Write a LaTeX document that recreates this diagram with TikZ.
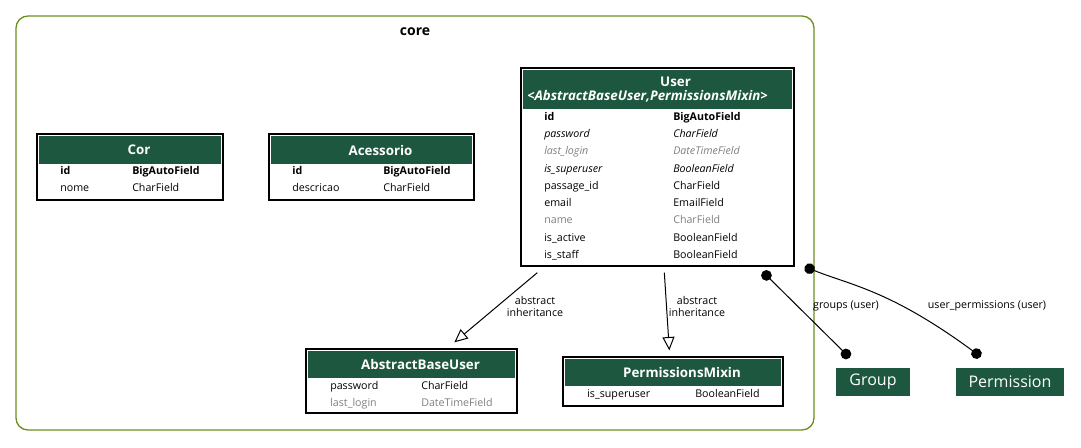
\documentclass[tikz,border=0pt]{standalone}
\usepackage{fontspec}
\setmainfont{Open Sans}
\usetikzlibrary{arrows.meta,calc}
\definecolor{hdgreen}{RGB}{29,87,63}
\definecolor{clgreen}{RGB}{107,142,35}
\def\inh{\itshape}
\def\gry{\color{gray}}
\def\hd{\hspace*{13.5pt}}
\begin{document}
\begin{tikzpicture}[x=0.75pt,y=-0.75pt,
				model/.style={draw,fill=white,line width=1pt,inner sep=0pt},
				head/.style={fill=hdgreen,text=white,align=center,font=\bfseries\fontsize{10}{10.5}\selectfont,inner sep=0pt},
				fld/.style={anchor=base west,inner sep=0pt,yshift=-3.6pt,font=\fontsize{8}{9}\selectfont},
				ext/.style={fill=hdgreen,text=white,font=\fontsize{12}{14}\selectfont,minimum height=21pt,inner sep=0pt},
				lab/.style={align=center,font=\fontsize{8}{9}\selectfont},
				inherit/.style={line width=0.75pt,-{Triangle[open,length=10pt,width=9pt]}},
				rel/.style={line width=0.75pt,{Circle[length=8pt]}-{Circle[length=8pt]}}]
				\useasboundingbox (0,0) rectangle (1081,447);
				\draw [clgreen,line width=1pt,rounded corners=9pt] (16,16) rectangle (814,430);
				\node [font=\bfseries\fontsize{10.5}{12}\selectfont] (core) at (415,32) {core};
				\node [model,minimum width=139.5pt,minimum height=49.5pt] (Cor) at (130,167) {};
				\node [head,minimum width=136.5pt,minimum height=21pt] (CorHead) at (130,150) {\hd Cor};
					\node [fld] (CorF1) at (60,170) {\bfseries id};
					\node [fld] (CorT1) at (132,170) {\bfseries BigAutoField};
					\node [fld] (CorF2) at (60,187) {nome};
					\node [fld] (CorT2) at (132,187) {CharField};
				\node [model,minimum width=153.75pt,minimum height=49.5pt] (Acessorio) at (371.5,167) {};
				\node [head,minimum width=150.75pt,minimum height=21pt] (AcessorioHead) at (371.5,150) {\hd Acessorio};
					\node [fld] (AcessorioF1) at (292,170) {\bfseries id};
					\node [fld] (AcessorioT1) at (383,170) {\bfseries BigAutoField};
					\node [fld] (AcessorioF2) at (292,187) {descricao};
					\node [fld] (AcessorioT2) at (383,187) {CharField};
				\node [model,minimum width=204.75pt,minimum height=148.5pt] (User) at (657.5,167) {};
				\node [head,minimum width=201.75pt,minimum height=29.25pt] (UserHead) at (657.5,89.5) {\hspace*{27pt}User\\\inh <AbstractBaseUser,PermissionsMixin>\hspace*{15pt}};
					\node [fld] (UserF1) at (544,116) {\bfseries id};
					\node [fld] (UserT1) at (673,116) {\bfseries BigAutoField};
					\node [fld] (UserF2) at (544,133) {\inh password};
					\node [fld] (UserT2) at (673,133) {\inh CharField};
					\node [fld] (UserF3) at (544,150) {\inh\gry last\_login};
					\node [fld] (UserT3) at (673,150) {\inh\gry DateTimeField};
					\node [fld] (UserF4) at (544,168) {\inh is\_superuser};
					\node [fld] (UserT4) at (673,168) {\inh BooleanField};
					\node [fld] (UserF5) at (544,185) {passage\_id};
					\node [fld] (UserT5) at (673,185) {CharField};
					\node [fld] (UserF6) at (544,202) {email};
					\node [fld] (UserT6) at (673,202) {EmailField};
					\node [fld] (UserF7) at (544,219) {\gry name};
					\node [fld] (UserT7) at (673,219) {\gry CharField};
					\node [fld] (UserF8) at (544,237) {is\_active};
					\node [fld] (UserT8) at (673,237) {BooleanField};
					\node [fld] (UserF9) at (544,254) {is\_staff};
					\node [fld] (UserT9) at (673,254) {BooleanField};
				\node [model,minimum width=158.25pt,minimum height=48pt] (AbstractBaseUser) at (411.5,381) {};
				\node [head,minimum width=155.25pt,minimum height=20.25pt] (AbstractBaseUserHead) at (411.5,364.5) {\hd AbstractBaseUser};
					\node [fld] (AbstractBaseUserF1) at (330,385) {password};
					\node [fld] (AbstractBaseUserT1) at (421,385) {CharField};
					\node [fld] (AbstractBaseUserF2) at (330,402) {\gry last\_login};
					\node [fld] (AbstractBaseUserT2) at (421,402) {\gry DateTimeField};
				\node [model,minimum width=165pt,minimum height=36.75pt] (PermissionsMixin) at (673,381.5) {};
				\node [head,minimum width=162pt,minimum height=20.25pt] (PermissionsMixinHead) at (673,372.5) {\hd PermissionsMixin};
					\node [fld] (PermissionsMixinF1) at (587,393) {is\_superuser};
					\node [fld] (PermissionsMixinT1) at (695,393) {BooleanField};
				\node [ext,minimum width=55.5pt] (Group) at (873,382) {Group};
				\node [ext,minimum width=81pt] (Permission) at (1010,382) {Permission};
				\draw [inherit] ($(User.south west)+(17,6)$) -- ($(AbstractBaseUser.north west)+(149,-6)$);
					\node [lab] (inh1) at (535,306) {abstract\\inheritance};
				\draw [inherit] ($(User.south west)+(144,6)$) -- ($(PermissionsMixin.north west)+(107,-6)$);
					\node [lab] (inh2) at (697,306) {abstract\\inheritance};
				\draw [rel] ($(User.south east)+(-32,5)$) -- ($(Group.north west)+(14,-10)$);
					\node [lab] (grp) at (846,306) {groups (user)};
				\draw [rel] ($(User.south east)+(10,0)$) .. controls (850,285) and (890,290) .. ($(Permission.north west)+(25,-11)$);
					\node [lab] (perm) at (987,306) {user\_permissions (user)};
			\end{tikzpicture}
\end{document}
